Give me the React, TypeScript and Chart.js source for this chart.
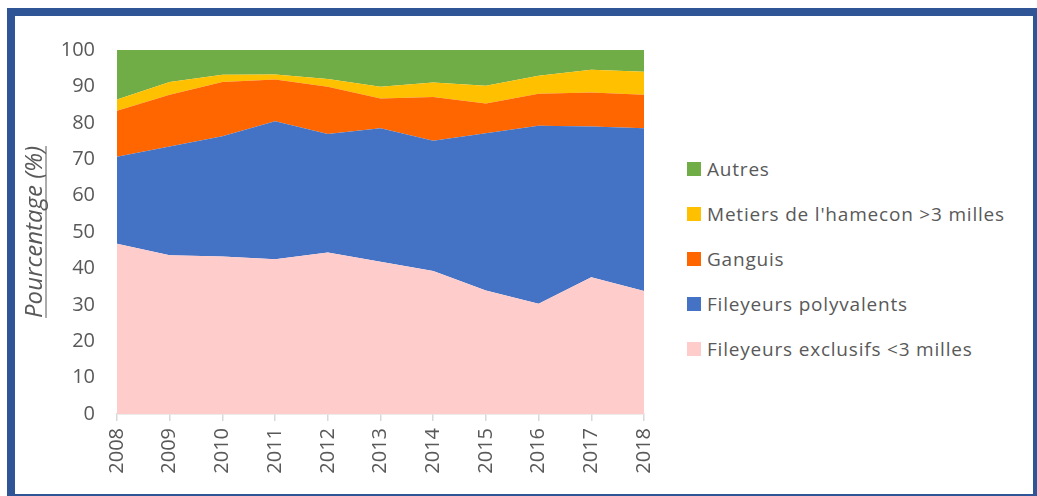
import React, { useEffect, useRef } from 'react';
import { Chart, registerables } from 'chart.js';

Chart.register(...registerables);

const years = ['2008', '2009', '2010', '2011', '2012', '2013', '2014', '2015', '2016', '2017', '2018'];
const fileyeursExclusifs = [46.8, 43.6, 43.3, 42.5, 44.4, 41.8, 39.3, 33.9, 30.3, 37.6, 33.8];
const fileyeursPolyvalents = [23.9, 29.9, 33.0, 37.9, 32.5, 36.7, 35.8, 43.2, 48.9, 41.4, 44.7];
const ganguis = [12.6, 14.2, 14.9, 11.5, 13.0, 8.2, 12.0, 8.2, 8.8, 9.3, 9.2];
const metiersHamecon = [3.1, 3.5, 2.0, 1.4, 2.1, 3.2, 4.0, 4.9, 4.9, 6.3, 6.3];
const autres = [13.6, 8.8, 6.8, 6.7, 8.0, 10.1, 8.9, 9.8, 7.1, 5.4, 6.0];

const seriesNames = [
  'Fileyeurs exclusifs <3 milles',
  'Fileyeurs polyvalents',
  'Ganguis',
  "Metiers de l'hamecon >3 milles",
  'Autres',
];
const seriesValues = [fileyeursExclusifs, fileyeursPolyvalents, ganguis, metiersHamecon, autres];
const seriesColors = ['#FFCCCC', '#4472C4', '#FF6600', '#FFC000', '#70AD47'];

const yTitle = 'Pourcentage (%)';
const FONT = '"Open Sans", "Noto Sans", sans-serif';
const TEXT = '#595959';
const TITLE_SIZE = 24;
const TITLE_PAD = 5.6;

const underlinePlugin = {
  id: 'titleUnderline',
  afterDraw(chart: any) {
    const s = chart.scales.y;
    const ctx = chart.ctx;
    ctx.save();
    ctx.font = `italic ${TITLE_SIZE}px ${FONT}`;
    const w = ctx.measureText(yTitle).width;
    const x = s.left + (TITLE_SIZE * 1.2) / 2 + TITLE_PAD + 11;
    const cy = (s.top + s.bottom) / 2;
    ctx.strokeStyle = TEXT;
    ctx.lineWidth = 1;
    ctx.beginPath();
    ctx.moveTo(x, cy - w / 2);
    ctx.lineTo(x, cy + w / 2);
    ctx.stroke();
    ctx.restore();
  },
};

export default function App() {
  const ref = useRef<HTMLCanvasElement>(null);
  useEffect(() => {
    if (!ref.current) return;
    const chart = new Chart(ref.current, {
      type: 'line',
      data: {
        labels: years,
        datasets: seriesValues.map((vals, i) => ({
          label: seriesNames[i],
          data: vals,
          backgroundColor: seriesColors[i],
          borderColor: seriesColors[i],
          borderWidth: 0,
          pointRadius: 0,
          tension: 0,
          fill: i === 0 ? 'origin' : '-1',
        })),
      },
      options: {
        animation: false,
        responsive: false,
        events: [],
        layout: { padding: { left: 0, right: 30, top: 33, bottom: 0 } },
        plugins: { legend: { display: false }, tooltip: { enabled: false } },
        scales: {
          x: {
            offset: false,
            grid: { display: true, drawOnChartArea: false, drawTicks: true, tickLength: 7, color: '#D9D9D9', lineWidth: 1.5 },
            border: { display: true, color: '#D9D9D9', width: 1.5 },
            ticks: { color: TEXT, font: { family: FONT, size: 20 }, minRotation: 90, maxRotation: 90, padding: 7 },
            afterFit: (s: any) => { s.height = 80; },
          },
          y: {
            stacked: true,
            min: 0,
            max: 100,
            grid: { display: false, drawTicks: false },
            border: { display: false },
            ticks: { stepSize: 10, color: TEXT, font: { family: FONT, size: 20 }, padding: 22 },
            title: { display: true, text: yTitle, color: TEXT, font: { family: FONT, size: TITLE_SIZE, style: 'italic' }, padding: { top: TITLE_PAD, bottom: 0 } },
            afterFit: (s: any) => { s.width = 102; },
          },
        },
      },
      plugins: [underlinePlugin],
    });
    return () => chart.destroy();
  }, []);

  const legendOrder = [4, 3, 2, 1, 0];
  return (
    <div style={{ position: 'fixed', left: 0, top: 0, width: 1037, height: 496, overflow: 'hidden', background: '#fff' }}>
      <div style={{ position: 'absolute', left: 7, top: 8, width: 1034, height: 494, boxSizing: 'border-box', border: '8px solid #2F5597' }} />
      <canvas ref={ref} width={660} height={478} style={{ position: 'absolute', left: 15, top: 16, width: 660, height: 478 }} />
      <div style={{ position: 'absolute', left: 687, top: 146, fontFamily: FONT, fontSize: 19, letterSpacing: 0.8, color: TEXT }}>
        {legendOrder.map((idx) => (
          <div key={idx} style={{ display: 'flex', alignItems: 'center', height: 45, whiteSpace: 'nowrap' }}>
            <span style={{ display: 'inline-block', width: 14, height: 14, background: seriesColors[idx], marginRight: 6 }} />
            <span>{seriesNames[idx]}</span>
          </div>
        ))}
      </div>
    </div>
  );
}
